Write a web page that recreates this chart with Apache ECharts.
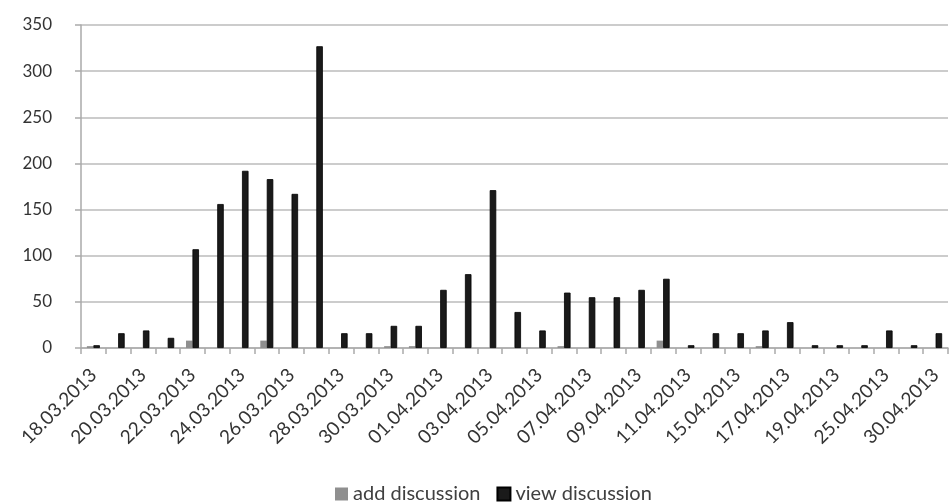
<!DOCTYPE html>
<html>
<head>
<meta charset="utf-8">
<script src="https://cdn.jsdelivr.net/npm/echarts@6/dist/echarts.min.js"></script>
<style>
    html, body { margin: 0; padding: 0; background: #fff; }
    #chart { width: 951px; height: 503px; }
</style>
</head>
<body>
<div id="chart"></div>
<script>
    // dates (only every other one is labelled on the axis)
    var dates = [
        '18.03.2013', '19.03.2013', '20.03.2013', '21.03.2013', '22.03.2013', '23.03.2013',
        '24.03.2013', '25.03.2013', '26.03.2013', '27.03.2013', '28.03.2013', '29.03.2013',
        '30.03.2013', '31.03.2013', '01.04.2013', '02.04.2013', '03.04.2013', '04.04.2013',
        '05.04.2013', '06.04.2013', '07.04.2013', '08.04.2013', '09.04.2013', '10.04.2013',
        '11.04.2013', '12.04.2013', '15.04.2013', '16.04.2013', '17.04.2013', '18.04.2013',
        '19.04.2013', '22.04.2013', '25.04.2013', '26.04.2013', '30.04.2013'
    ];
    var addDiscussion = [
        2, 0, 0, 0, 8, 0, 0, 8, 0, 0, 0, 0, 2, 2, 0, 0, 0, 0,
        0, 2, 0, 0, 0, 8, 0, 0, 0, 2, 0, 0, 0, 0, 0, 0, 0
    ];
    var viewDiscussion = [
        3, 16, 19, 11, 107, 156, 192, 183, 167, 327, 16, 16, 24, 24, 63, 80, 171, 39,
        19, 60, 55, 55, 63, 75, 3, 16, 16, 19, 28, 3, 3, 3, 19, 3, 16
    ];
    var seriesNames = ['add discussion', 'view discussion'];

    var myChart = echarts.init(document.getElementById('chart'));
    var font = 'Lato, "Open Sans", sans-serif';
    var option = {
        animation: false,
        grid: {
            left: 81,
            right: 3,
            top: 25,
            bottom: 155
        },
        legend: {
            top: 479,
            left: 330,
            itemWidth: 13,
            itemHeight: 13,
            itemGap: 16,
            icon: 'rect',
            textStyle: {
                fontFamily: font,
                fontSize: 20,
                color: '#404040'
            },
            data: seriesNames
        },
        xAxis: {
            type: 'category',
            data: dates,
            axisLine: {
                show: true,
                lineStyle: { color: '#aaa', width: 1.5 }
            },
            axisTick: {
                show: true,
                interval: 0,
                length: 6,
                lineStyle: { color: '#aaa', width: 1.5 }
            },
            axisLabel: {
                interval: 1,
                rotate: 45,
                margin: 24,
                fontFamily: font,
                fontSize: 19,
                color: '#333'
            }
        },
        yAxis: {
            type: 'value',
            min: 0,
            max: 350,
            interval: 50,
            axisLine: {
                show: true,
                lineStyle: { color: '#aaa', width: 1.5 }
            },
            axisTick: {
                show: true,
                length: 6,
                lineStyle: { color: '#aaa', width: 1.5 }
            },
            axisLabel: {
                margin: 29,
                fontFamily: font,
                fontSize: 17,
                color: '#333'
            },
            splitLine: {
                lineStyle: { color: '#bbb', width: 1.5 }
            }
        },
        series: [
            {
                name: seriesNames[0],
                type: 'bar',
                data: addDiscussion,
                barWidth: 6.5,
                barGap: '0%',
                itemStyle: { color: '#8f8f8f' }
            },
            {
                name: seriesNames[1],
                type: 'bar',
                data: viewDiscussion,
                barWidth: 6.5,
                itemStyle: { color: '#1a1a1a', borderColor: '#000', borderWidth: 0.8 }
            }
        ]
    };
    option && myChart.setOption(option);
</script>
</body>
</html>
